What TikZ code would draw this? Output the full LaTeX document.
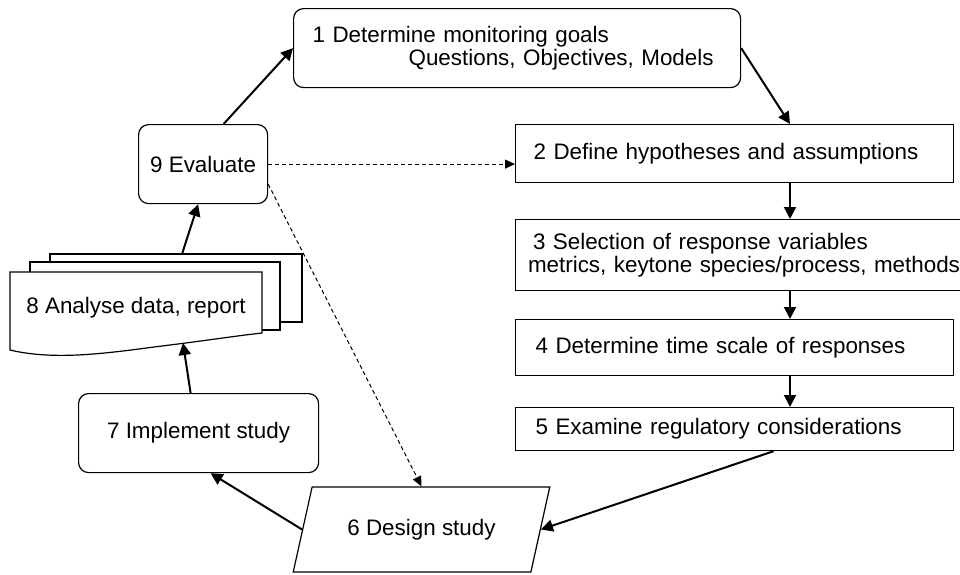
\documentclass[tikz,border=0pt]{standalone}
\usepackage{fontspec}
\setmainfont{Liberation Sans}
\usetikzlibrary{shapes.geometric,arrows.meta}

\begin{document}
\begin{tikzpicture}[x=5pt,y=5pt]
                \tikzstyle{every node}+=[inner sep=0pt,font=\fontsize{11.2}{11.5}\selectfont]
                \tikzstyle{rbox}=[draw,rounded corners=5pt,line width=0.6pt,anchor=north west]
                \tikzstyle{sbox}=[draw,line width=0.6pt,anchor=north west,align=left]
                \tikzstyle{flow}=[line width=1pt,-{Triangle[length=6pt,width=6pt]}]
                \tikzstyle{hint}=[line width=0.5pt,dash pattern=on 2pt off 1.5pt,-{Triangle[length=5pt,width=4.5pt]}]
                \useasboundingbox (0,0) rectangle (96,-57.4);
                \node [rbox,minimum width=223.5pt,minimum height=39.5pt,inner xsep=9.5pt,text width=204.5pt,align=left] (goals) at (29.3,-0.8) {1 Determine monitoring goals\\\hspace*{48pt}Questions, Objectives, Models};
                \node [sbox,minimum height=29pt,inner xsep=9pt,text width=201pt] (hypo) at (51.5,-12.4) {2 Define hypotheses and assumptions};
                \node [sbox,minimum height=35.5pt,inner xsep=6.2pt,text width=222pt] (select) at (51.5,-21.9) {\hspace*{2.5pt}3 Selection of response variables\\metrics, keytone species/process, methods};
                \node [sbox,minimum height=28pt,inner xsep=10pt,text width=199pt] (timescale) at (51.5,-31.9) {4 Determine time scale of responses};
                \node [sbox,minimum height=21.5pt,inner xsep=10pt,text width=199pt] (regul) at (51.5,-40.7) {5 Examine regulatory considerations};
                \node [draw,line width=0.6pt,trapezium,trapezium left angle=58.5,trapezium right angle=121.5,trapezium stretches=true,minimum width=128.5pt,minimum height=42.5pt] (design) at (42.15,-52.95) {6 Design study};
                \node [rbox,minimum width=120pt,minimum height=39.5pt] (impl) at (7.8,-39.3) {7 Implement study};
                \node [rbox,minimum width=64.5pt,minimum height=39.5pt] (evaluate) at (13.8,-12.4) {9 Evaluate};
                \draw [fill=white,line width=0.6pt] (5.0,-25.4) rectangle (30.2,-32.2);
                \draw [fill=white,line width=0.6pt] (3.0,-26.2) rectangle (28.0,-33.0);
                \draw [fill=white,line width=0.6pt] (1.0,-27.2) -- (26.2,-27.2) -- (26.2,-33.3) .. controls (23.5,-33.6) and (21,-34.0) .. (17,-34.5) .. controls (12,-35.1) and (6,-36.2) .. (1.0,-35.0) -- cycle;
                \node (analyse) at (13.6,-30.8) {8 Analyse data, report};
                \coordinate (stacktop) at (18.2,-25.4);
                \coordinate (stackbot) at (18.3,-34.3);
                \coordinate (spine) at (79,0);
                \draw [flow] ([xshift=10.25pt]evaluate.north) -- (goals.west);
                \draw [flow] (goals.east) -- (hypo.north -| spine);
                \draw [flow] (hypo.south -| spine) -- (select.north -| spine);
                \draw [flow] (select.south -| spine) -- (timescale.north -| spine);
                \draw [flow] (timescale.south -| spine) -- (regul.north -| spine);
                \draw [flow] ([xshift=19.5pt]regul.south) -- (design.east);
                \draw [flow] (design.west) -- ([xshift=6pt]impl.south);
                \draw [flow] ([xshift=-4pt]impl.north) -- (stackbot);
                \draw [flow] (stacktop) -- ([xshift=-2.5pt]evaluate.south);
                \draw [hint] (evaluate.east) -- (hypo.west |- evaluate.east);
                \draw [hint] ([yshift=-10pt]evaluate.east) -- (design.north);
              \end{tikzpicture}
\end{document}
